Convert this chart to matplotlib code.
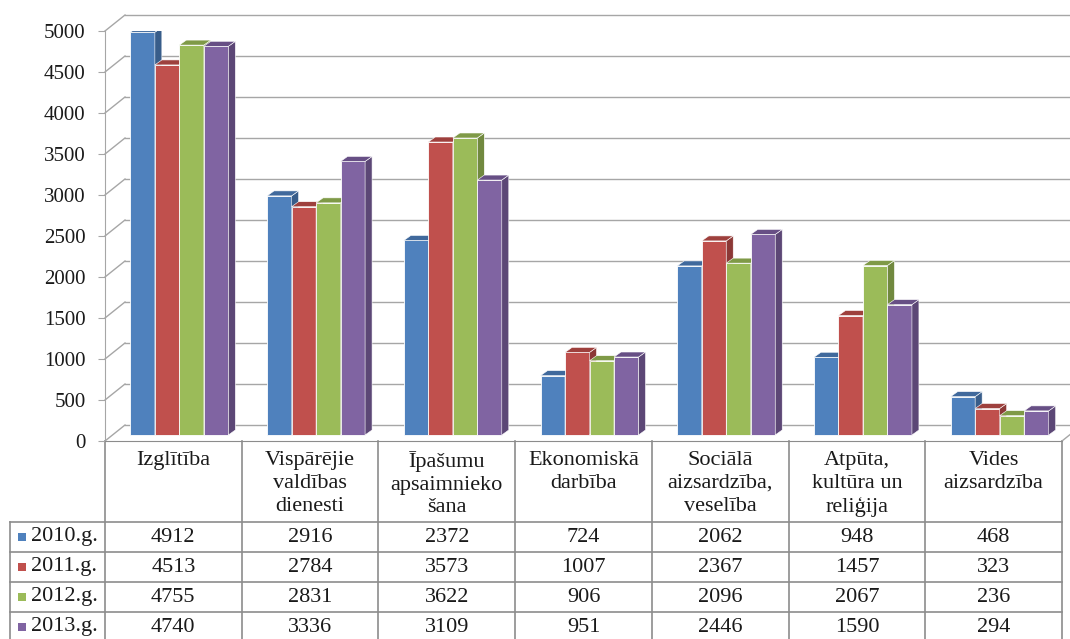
import numpy as np
import matplotlib.pyplot as plt
from matplotlib.patches import Polygon, Rectangle

plt.rcParams['font.family'] = ['Liberation Serif', 'DejaVu Serif']

categories = ['Izglītība', 'Vispārējie\nvaldības\ndienesti', 'Īpašumu\napsaimnieko\nšana',
              'Ekonomiskā\ndarbība', 'Sociālā\naizsardzība,\nveselība',
              'Atpūta,\nkultūra un\nreliģija', 'Vides\naizsardzība']
years = ['2010.g.', '2011.g.', '2012.g.', '2013.g.']
v2010 = [4912, 2916, 2372, 724, 2062, 948, 468]
v2011 = [4513, 2784, 3573, 1007, 2367, 1457, 323]
v2012 = [4755, 2831, 3622, 906, 2096, 2067, 236]
v2013 = [4740, 3336, 3109, 951, 2446, 1590, 294]
y_ticks = list(range(0, 5001, 500))

series = [v2010, v2011, v2012, v2013]
c_front = ['#4F81BD', '#C0504D', '#9BBB59', '#8064A2']
c_side = ['#385D8A', '#8C3836', '#71893F', '#5C4776']
c_top = ['#40699C', '#9E403D', '#7F9A47', '#674F85']
grid_c = '#a6a6a6'
line_c = '#8c8c8c'
txt_c = '#1a1a1a'

W, H = 1070, 639
fig = plt.figure(figsize=(W / 100, H / 100), dpi=100)

# front plane of the chart, in pixels of the picture
x0, x1, y0, y1 = 105, 1062, 441, 31
ax = fig.add_axes([x0 / W, (H - y0) / H, (x1 - x0) / W, (y0 - y1) / H])
ncat = len(categories)
ax.set_xlim(0, ncat)
ax.set_ylim(0, 5000)
px = ncat / (x1 - x0)        # data x per pixel
py = 5000 / (y0 - y1)        # data y per pixel

# back wall and floor
DX, DY = 20 * px, 16 * py
for t in y_ticks:
    ax.plot([0, DX], [t, t + DY], color=grid_c, lw=1, clip_on=False, zorder=1)
    ax.plot([DX, ncat + 0.3], [t + DY, t + DY], color=grid_c, lw=1, clip_on=False, zorder=1)
ax.plot([ncat, ncat + DX], [0, DY], color=grid_c, lw=1, clip_on=False, zorder=1)

# 3d bars
bw = 24.5 * px
ox, oy = 6 * px, 6 * py
sx, sy = 7 * px, 5 * py
z = 3
for i in range(ncat):
    for k, vals in enumerate(series):
        v = vals[i]
        left = i + 0.5 + (k - 2) * bw + ox
        ax.bar(left, v, width=bw, bottom=oy, align='edge', color=c_front[k],
               edgecolor='#ffffff', linewidth=0.6, zorder=z)
        r, tp = left + bw, oy + v
        ax.add_patch(Polygon([(r, oy), (r + sx, oy + sy), (r + sx, tp + sy), (r, tp)],
                             closed=True, facecolor=c_side[k], edgecolor='#ffffff',
                             linewidth=0.4, zorder=z))
        ax.add_patch(Polygon([(left, tp), (r, tp), (r + sx, tp + sy), (left + sx, tp + sy)],
                             closed=True, facecolor=c_top[k], edgecolor='#ffffff',
                             linewidth=0.4, zorder=z))
        z += 1

ax.set_yticks(y_ticks)
ax.set_xticks([])
for s in ['top', 'right']:
    ax.spines[s].set_visible(False)
ax.spines['left'].set_color(grid_c)
ax.spines['bottom'].set_color(line_c)
ax.tick_params(axis='y', length=5, color=grid_c, labelsize=15, pad=9, labelcolor=txt_c)
ax.patch.set_visible(False)

# data table under the chart
tab = fig.add_axes([0, 0, 1, 1], zorder=-1)
tab.set_xlim(0, W)
tab.set_ylim(H, 0)
tab.axis('off')
col_x = x0 + np.arange(ncat + 1) * (x1 - x0) / ncat
row_y = [441, 522, 552, 582, 612, 642]
lx = 10
for cx in col_x:
    tab.plot([cx, cx], [row_y[0], H + 2], color=line_c, lw=1.2)
for ry in row_y[1:-1]:
    tab.plot([lx, x1], [ry, ry], color=line_c, lw=1.2)
tab.plot([lx, lx], [row_y[1], H + 2], color=line_c, lw=1.2)

for i, name in enumerate(categories):
    cx = (col_x[i] + col_x[i + 1]) / 2
    tab.text(cx, 451, name, ha='center', va='top', fontsize=16, color=txt_c, linespacing=1.27)
    for k, vals in enumerate(series):
        cy = (row_y[k + 1] + row_y[k + 2]) / 2
        tab.text(cx, cy, str(vals[i]), ha='center', va='center', fontsize=16, color=txt_c)

for k, yr in enumerate(years):
    cy = (row_y[k + 1] + row_y[k + 2]) / 2
    tab.add_patch(Rectangle((18, cy - 4), 8, 8, facecolor=c_front[k], edgecolor='none'))
    tab.text(31, cy, yr, ha='left', va='center', fontsize=16, color=txt_c)

fig.savefig('out.png', dpi=100)
